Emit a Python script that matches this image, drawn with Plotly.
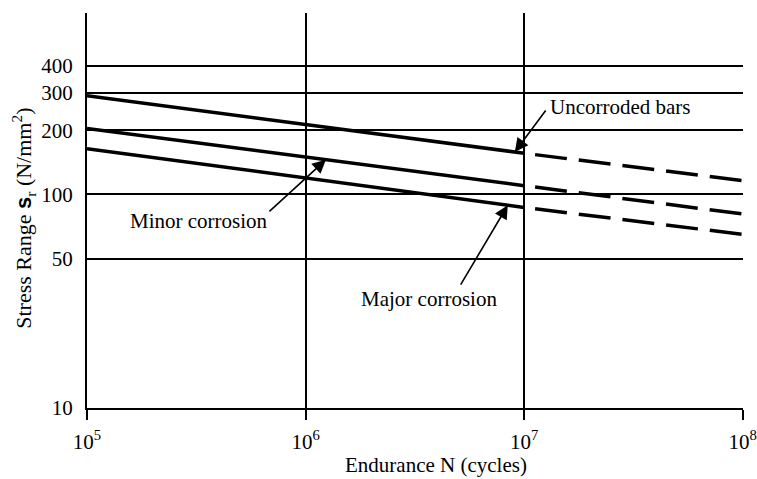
import numpy as np
import plotly.graph_objects as go

# ---- data ----
endurance = [1e5, 1e7, 1e8]          # N (cycles)
uncorroded = [290, 156, 116]         # stress range (N/mm2)
minor_corr = [204, 110, 81]
major_corr = [164, 87, 65]

x_ticks = [1e5, 1e6, 1e7, 1e8]
x_ticktext = ["10<sup>5</sup>", "10<sup>6</sup>", "10<sup>7</sup>", "10<sup>8</sup>"]
y_ticks = [10, 50, 100, 200, 300, 400]
y_ticktext = ["10", "50", "100", "200", "300", "400"]

labels = ["Uncorroded bars", "Minor corrosion", "Major corrosion"]
series = [uncorroded, minor_corr, major_corr]
arrow_at = [10**6.957, 10**6.093, 10**6.925]   # where each arrow points along its line

FONT = "Liberation Serif, Times New Roman, serif"
LW = 3.5

fig = go.Figure()
for name, vals in zip(labels, series):
    # solid part (tested range)
    fig.add_trace(go.Scatter(x=endurance[:2], y=vals[:2], mode="lines",
                             line=dict(color="black", width=LW), showlegend=False,
                             hoverinfo="skip"))
    # dashed extrapolation
    fig.add_trace(go.Scatter(x=endurance[1:], y=vals[1:], mode="lines",
                             line=dict(color="black", width=LW, dash="0px,11px,32px,1px"),
                             showlegend=False, hoverinfo="skip"))

def on_line(vals, n):
    lx = np.log10(endurance[:2]); ly = np.log10(vals[:2])
    return float(np.interp(np.log10(n), lx, ly))

# arrows (tail offsets in px)
offsets = [(32, -43), (-58, 53), (-48, 81)]
text_pos = [(7.108, 2.41), (5.187, 1.876), (6.244, 1.511)]
for name, vals, n, (ax, ay), (tx, ty) in zip(labels, series, arrow_at, offsets, text_pos):
    fig.add_annotation(x=np.log10(n), y=on_line(vals, n), xref="x", yref="y",
                       text="", showarrow=True, arrowhead=2, arrowsize=1.7,
                       arrowwidth=1.6, arrowcolor="black", standoff=0, ax=ax, ay=ay)
    fig.add_annotation(x=tx, y=ty, xref="x", yref="y", text=name, showarrow=False,
                       xanchor="left", yanchor="middle",
                       font=dict(family=FONT, size=21, color="black"))

# axis titles
fig.add_annotation(x=0.532, y=-0.145, xref="paper", yref="paper",
                   text="Endurance N (cycles)", showarrow=False,
                   xanchor="center", yanchor="middle",
                   font=dict(family=FONT, size=21, color="black"))
fig.add_annotation(x=-0.097, y=0.48, xref="paper", yref="paper", textangle=-90,
                   text="Stress Range <span style='font-family:Liberation Sans'><b>s</b></span><sub>r</sub> (N/mm<sup>2</sup>)",
                   showarrow=False, xanchor="center", yanchor="middle",
                   font=dict(family=FONT, size=22, color="black"))

fig.update_layout(
    width=757, height=479,
    margin=dict(l=87, r=14, t=13, b=71, autoexpand=False),
    paper_bgcolor="white", plot_bgcolor="white",
    font=dict(family=FONT, size=21, color="black"),
    showlegend=False,
)
fig.update_xaxes(type="log", range=[5, 8.001], tickvals=x_ticks, ticktext=x_ticktext,
                 showgrid=True, gridcolor="black", gridwidth=1.6,
                 showline=True, linecolor="black", linewidth=2,
                 ticks="outside", ticklen=10, tickwidth=2, tickcolor="black",
                 ticklabelstandoff=4, zeroline=False, automargin=False)
fig.update_yaxes(type="log", range=[1, 2.85], tickvals=y_ticks, ticktext=y_ticktext,
                 showgrid=True, gridcolor="black", gridwidth=1.6,
                 showline=True, linecolor="black", linewidth=2,
                 ticks="", ticklabelstandoff=8, zeroline=False, automargin=False)

fig.write_html("out.html")
